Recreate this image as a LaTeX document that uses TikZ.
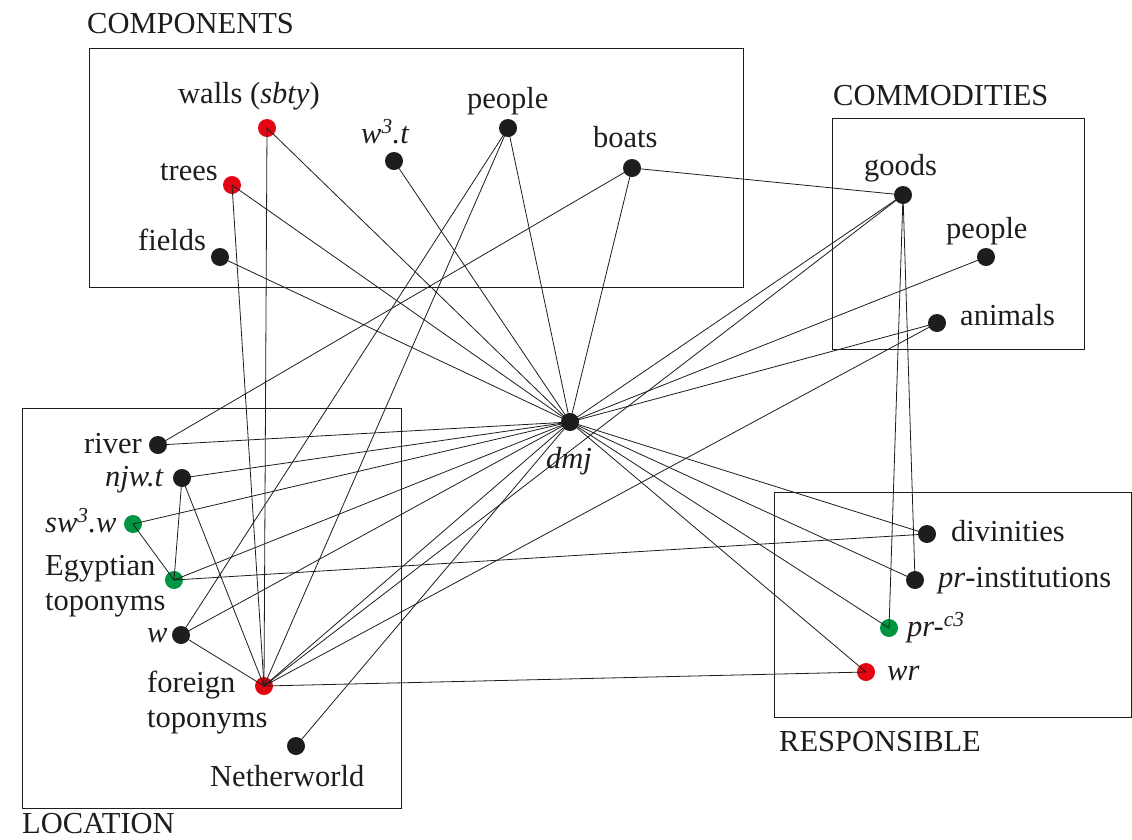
\documentclass[tikz,border=0pt]{standalone}
\usepackage{fontspec}
\setmainfont{Liberation Serif}
\usepackage{xcolor}
\usepackage{tikz}
\usetikzlibrary{positioning}

\definecolor{dotred}{HTML}{E30613}
\definecolor{dotgreen}{HTML}{009641}
\definecolor{dotblack}{HTML}{1D1D1B}

\begin{document}
\begin{tikzpicture}[
      x=1pt, y=-1pt,
      font=\fontsize{30.5}{35}\selectfont,
      every node/.style={inner sep=0pt},
      dot/.style={circle, fill=dotblack, minimum size=18pt},
      reddot/.style={dot, fill=dotred},
      greendot/.style={dot, fill=dotgreen},
      lbl/.style={anchor=base west, text=dotblack},
      twolbl/.style={anchor=north west, align=left, text=dotblack},
      link/.style={draw=dotblack, line width=0.8pt},
      group/.style={draw=dotblack, line width=1pt}
    ]
      \useasboundingbox (0,0) rectangle (1132,839);

      % groups
      \draw[group] (89,48) rectangle (743,287);
      \draw[group] (832,118) rectangle (1084,349);
      \draw[group] (22,408) rectangle (401,808);
      \draw[group] (774,492) rectangle (1131,717);
      \node[lbl] (components) at (87,33) {COMPONENTS};
      \node[lbl] (commodities) at (833,105) {COMMODITIES};
      \node[lbl] (location) at (22,833) {LOCATION};
      \node[lbl] (responsible) at (779,751) {RESPONSIBLE};

      % concepts
      \node[reddot] (walls) at (267,128) {};
      \node[dot] (wat) at (394,161) {};
      \node[dot] (people) at (508,128) {};
      \node[dot] (boats) at (632,168) {};
      \node[reddot] (trees) at (232,185) {};
      \node[dot] (fields) at (220,257) {};
      \node[dot] (goods) at (903,195) {};
      \node[dot] (peopleb) at (986,257) {};
      \node[dot] (animals) at (937,323) {};
      \node[dot] (dmj) at (570,422) {};
      \node[dot] (river) at (158,445) {};
      \node[dot] (njwt) at (182,478) {};
      \node[greendot] (swaw) at (133,524) {};
      \node[greendot] (egypt) at (174,580) {};
      \node[dot] (w) at (181,635) {};
      \node[reddot] (foreign) at (264,686) {};
      \node[dot] (nether) at (296,746) {};
      \node[dot] (divin) at (927,534) {};
      \node[dot] (prinst) at (915,580) {};
      \node[greendot] (praa) at (889,628) {};
      \node[reddot] (wr) at (866,672) {};

      % labels
      \node[lbl] (walls-l) at (178,103) {walls (\textit{sbty})};
      \node[lbl] (wat-l) at (361,143) {\textit{w\textsuperscript{3}.t}};
      \node[lbl] (people-l) at (467,108) {people};
      \node[lbl] (boats-l) at (593,147) {boats};
      \node[lbl] (trees-l) at (160,180) {trees};
      \node[lbl] (fields-l) at (138,250) {fields};
      \node[lbl] (goods-l) at (864,175) {goods};
      \node[lbl] (peopleb-l) at (946,238) {people};
      \node[lbl] (animals-l) at (960,325) {animals};
      \node[lbl] (dmj-l) at (546,468) {\textit{dmj}};
      \node[lbl] (river-l) at (84,453) {river};
      \node[lbl] (njwt-l) at (105,486) {\textit{njw.t}};
      \node[lbl] (swaw-l) at (45,532) {\textit{sw\textsuperscript{3}.w}};
      \node[twolbl] (egypt-l) at (45,555) {Egyptian\\toponyms};
      \node[lbl] (w-l) at (147,642) {\textit{w}};
      \node[twolbl] (foreign-l) at (147,671) {foreign\\toponyms};
      \node[lbl] (nether-l) at (210,786) {Netherworld};
      \node[lbl] (divin-l) at (951,541) {divinities};
      \node[lbl] (prinst-l) at (938,587) {\textit{pr}-institutions};
      \node[lbl] (praa-l) at (907,636) {\textit{pr-\textsuperscript{c3}}};
      \node[lbl] (wr-l) at (887,680) {\textit{wr}};

      % links
      \draw[link] (walls.center) -- (dmj.center);
      \draw[link] (walls.center) -- (foreign.center);
      \draw[link] (trees.center) -- (dmj.center);
      \draw[link] (trees.center) -- (foreign.center);
      \draw[link] (fields.center) -- (dmj.center);
      \draw[link] (wat.center) -- (dmj.center);
      \draw[link] (people.center) -- (dmj.center);
      \draw[link] (people.center) -- (w.center);
      \draw[link] (people.center) -- (foreign.center);
      \draw[link] (boats.center) -- (dmj.center);
      \draw[link] (boats.center) -- (river.center);
      \draw[link] (boats.center) -- (goods.center);
      \draw[link] (goods.center) -- (dmj.center);
      \draw[link] (goods.center) -- (foreign.center);
      \draw[link] (goods.center) -- (prinst.center);
      \draw[link] (goods.center) -- (praa.center);
      \draw[link] (peopleb.center) -- (dmj.center);
      \draw[link] (animals.center) -- (dmj.center);
      \draw[link] (animals.center) -- (foreign.center);
      \draw[link] (river.center) -- (dmj.center);
      \draw[link] (njwt.center) -- (dmj.center);
      \draw[link] (njwt.center) -- (egypt.center);
      \draw[link] (njwt.center) -- (foreign.center);
      \draw[link] (swaw.center) -- (dmj.center);
      \draw[link] (swaw.center) -- (egypt.center);
      \draw[link] (egypt.center) -- (dmj.center);
      \draw[link] (egypt.center) -- (divin.center);
      \draw[link] (w.center) -- (dmj.center);
      \draw[link] (w.center) -- (foreign.center);
      \draw[link] (foreign.center) -- (dmj.center);
      \draw[link] (foreign.center) -- (wr.center);
      \draw[link] (nether.center) -- (dmj.center);
      \draw[link] (dmj.center) -- (divin.center);
      \draw[link] (dmj.center) -- (prinst.center);
      \draw[link] (dmj.center) -- (praa.center);
      \draw[link] (dmj.center) -- (wr.center);
    \end{tikzpicture}
\end{document}
